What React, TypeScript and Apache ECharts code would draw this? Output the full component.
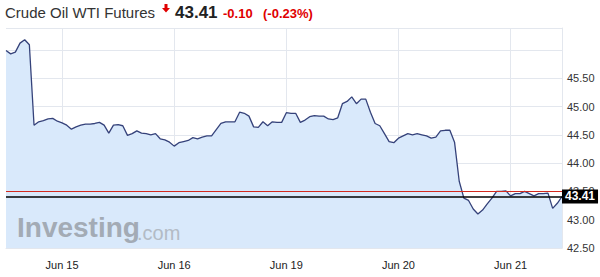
import React, { useEffect, useRef } from "react";
import * as echarts from "echarts";

// Trading sessions shown on the chart (weekend skipped)
const days = ["Jun 14", "Jun 15", "Jun 16", "Jun 19", "Jun 20", "Jun 21"];
const startHour = 12; // first point: Jun 14 12:00, hourly points

// Hourly closing prices
const prices = [
  45.99, 45.93, 45.96, 46.12, 46.18, 46.09, 44.67, 44.73, 44.75, 44.78,
  44.79, 44.74, 44.71, 44.67, 44.6, 44.64, 44.67, 44.69, 44.69, 44.7,
  44.72, 44.67, 44.53, 44.67, 44.68, 44.66, 44.49, 44.52, 44.57, 44.53,
  44.52, 44.5, 44.52, 44.43, 44.41, 44.37, 44.3, 44.36, 44.38, 44.4,
  44.45, 44.43, 44.46, 44.48, 44.48, 44.59, 44.7, 44.73, 44.73, 44.73,
  44.9, 44.88, 44.83, 44.64, 44.63, 44.73, 44.66, 44.73, 44.72, 44.72,
  44.89, 44.88, 44.88, 44.72, 44.76, 44.82, 44.84, 44.83, 44.83, 44.78,
  44.77, 44.8, 45.05, 45.09, 45.17, 45.05, 45.13, 45.13, 44.9, 44.7,
  44.66, 44.52, 44.38, 44.36, 44.44, 44.48, 44.52, 44.5, 44.52, 44.5,
  44.48, 44.44, 44.46, 44.57, 44.58, 44.58, 44.37, 43.68, 43.38, 43.34,
  43.19, 43.1, 43.17, 43.28, 43.38, 43.5, 43.5, 43.51, 43.42, 43.46,
  43.46, 43.5, 43.46, 43.42, 43.46, 43.46, 43.47, 43.2, 43.29, 43.41,
];

const lastPrice = 43.41;
const prevClose = 43.51;
const changeText = "-0.10";
const changePctText = "(-0.23%)";
const titleText = "Crude Oil WTI Futures";

const yMin = 42.5;
const yMax = 46.387;
const yStep = 0.5;

const categories = prices.map((_, i) => {
  const h = startHour + i;
  const d = days[Math.floor(h / 24)];
  const hh = String(h % 24).padStart(2, "0");
  return `${d} ${hh}:00`;
});

const FONT = 'Arial, "Liberation Sans", sans-serif';
const isDayStart = (_i: number, v: string) => v.endsWith(" 00:00");

export default function App() {
  const ref = useRef<HTMLDivElement>(null);
  useEffect(() => {
    if (!ref.current) return;
    const chart = echarts.init(ref.current, null, { renderer: "svg" });
    chart.setOption({
      animation: false,
      backgroundColor: "#ffffff",
      grid: { left: 6, right: 38, top: 28, bottom: 29 },
      xAxis: {
        type: "category",
        data: categories,
        boundaryGap: false,
        axisLine: { show: true, lineStyle: { color: "#e3e7ee" } },
        axisTick: { show: false },
        axisLabel: {
          interval: isDayStart,
          formatter: (v: string) => v.split(" ").slice(0, 2).join(" "),
          color: "#222",
          fontSize: 11,
          fontFamily: FONT,
          margin: 11,
        },
        splitLine: {
          show: true,
          interval: isDayStart,
          lineStyle: { color: "#e3e7ee", width: 1 },
        },
      },
      yAxis: {
        type: "value",
        position: "right",
        min: yMin,
        max: yMax,
        interval: yStep,
        axisLine: { show: true, lineStyle: { color: "#e3e7ee" } },
        axisTick: { show: false },
        axisLabel: {
          color: "#333",
          fontSize: 11,
          fontFamily: FONT,
          margin: 5,
          formatter: (v: number) => {
            const onStep = Math.abs(v / yStep - Math.round(v / yStep)) < 1e-6;
            return onStep && v < 45.9 ? v.toFixed(2) : "";
          },
        },
        splitLine: { show: true, lineStyle: { color: "#e3e7ee", width: 1 } },
      },
      series: [
        {
          type: "line",
          data: prices,
          showSymbol: false,
          symbol: "none",
          lineStyle: { color: "#35427a", width: 1.3 },
          areaStyle: { color: "#d9e9fb", opacity: 1 },
          markLine: {
            silent: true,
            symbol: "none",
            animation: false,
            data: [
              {
                yAxis: prevClose,
                lineStyle: { color: "#d42a1e", width: 1.2, type: "solid" },
                label: { show: false },
              },
              {
                yAxis: lastPrice,
                lineStyle: { color: "#000", width: 1.5, type: "solid" },
                label: {
                  show: true,
                  position: "end",
                  distance: 0,
                  formatter: lastPrice.toFixed(2),
                  backgroundColor: "#000",
                  color: "#fff",
                  fontWeight: "bold",
                  fontSize: 12,
                  fontFamily: FONT,
                  padding: [1, 3, 1, 3],
                },
              },
            ],
          },
        },
      ],
      graphic: [
        {
          type: "text",
          left: 17,
          top: 213,
          z: 10,
          style: {
            text: "Investing",
            fontSize: 28,
            fontWeight: "bold",
            fontFamily: FONT,
            fill: "#a3abb5",
          },
        },
        {
          type: "text",
          left: 137,
          top: 223,
          z: 10,
          style: {
            text: ".com",
            fontSize: 20,
            fontFamily: FONT,
            fill: "#b3bbc5",
          },
        },
        {
          type: "text",
          left: 5,
          top: 5,
          style: { text: titleText, fontSize: 15, fontFamily: FONT, fill: "#333" },
        },
        {
          type: "polygon",
          shape: {
            points: [
              [164.5, 4],
              [167.5, 4],
              [167.5, 8],
              [170, 8],
              [166, 12.5],
              [162, 8],
              [164.5, 8],
            ],
          },
          style: { fill: "#e00000" },
        },
        {
          type: "text",
          left: 175,
          top: 4,
          style: {
            text: lastPrice.toFixed(2),
            fontSize: 17,
            fontWeight: "bold",
            fontFamily: FONT,
            fill: "#222",
          },
        },
        {
          type: "text",
          left: 223,
          top: 7,
          style: {
            text: changeText,
            fontSize: 13,
            fontWeight: "bold",
            fontFamily: FONT,
            fill: "#e00000",
          },
        },
        {
          type: "text",
          left: 263,
          top: 7,
          style: {
            text: changePctText,
            fontSize: 13,
            fontWeight: "bold",
            fontFamily: FONT,
            fill: "#e00000",
          },
        },
      ],
    });
    return () => chart.dispose();
  }, []);
  return (
    <div
      ref={ref}
      style={{ position: "fixed", left: 0, top: 0, width: 600, height: 277 }}
    />
  );
}
